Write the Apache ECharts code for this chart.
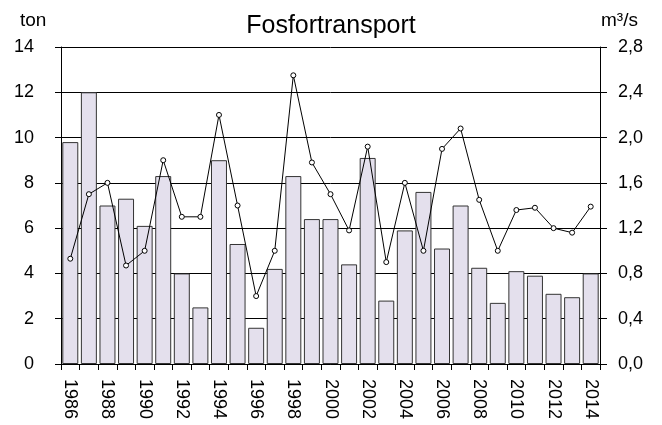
<!DOCTYPE html>
<html>
<head>
<meta charset="utf-8">
<script src="https://cdn.jsdelivr.net/npm/echarts@6/dist/echarts.min.js"></script>
<style>
  html, body { margin: 0; padding: 0; background: #fff; }
  #chart { width: 662px; height: 425px; }
</style>
</head>
<body>
<div id="chart"></div>
<script>
// Annual phosphorus transport (ton) and mean discharge (m³/s)
const years = ['1986','1987','1988','1989','1990','1991','1992','1993','1994','1995',
  '1996','1997','1998','1999','2000','2001','2002','2003','2004','2005',
  '2006','2007','2008','2009','2010','2011','2012','2013','2014'];
const transportTon = [9.8, 12.0, 7.0, 7.3, 6.1, 8.3, 4.0, 2.5, 9.0, 5.3,
  1.6, 4.2, 8.3, 6.4, 6.4, 4.4, 9.1, 2.8, 5.9, 7.6,
  5.1, 7.0, 4.25, 2.7, 4.1, 3.9, 3.1, 2.95, 4.0];
const flowM3s = [0.93, 1.50, 1.60, 0.87, 1.00, 1.80, 1.30, 1.30, 2.20, 1.40,
  0.60, 1.00, 2.55, 1.78, 1.50, 1.18, 1.92, 0.90, 1.60, 1.00,
  1.90, 2.08, 1.45, 1.00, 1.36, 1.38, 1.20, 1.16, 1.39];
const leftTicks = [0, 2, 4, 6, 8, 10, 12, 14];
const rightTicks = [0, 0.4, 0.8, 1.2, 1.6, 2.0, 2.4, 2.8];

const FONT = 'Liberation Sans, Arial, sans-serif';
const chart = echarts.init(document.getElementById('chart'), null, { renderer: 'canvas' });

chart.setOption({
  animation: false,
  backgroundColor: '#ffffff',
  title: {
    text: 'Fosfortransport',
    left: 'center',
    top: 9,
    textStyle: { fontFamily: FONT, fontSize: 25, fontWeight: 'normal', color: '#000' }
  },
  graphic: [
    { type: 'text', left: 20, top: 11, style: { text: 'ton', font: '19px ' + FONT, fill: '#000' } },
    { type: 'text', left: 601, top: 11, style: { text: 'm³/s', font: '19px ' + FONT, fill: '#000' } }
  ],
  grid: { left: 61, right: 62, top: 47, bottom: 61, containLabel: false },
  xAxis: {
    type: 'category',
    data: years,
    boundaryGap: true,
    axisLine: { show: true, lineStyle: { color: '#000', width: 1 } },
    axisTick: { show: true, alignWithLabel: false, interval: 0, length: 6, lineStyle: { color: '#000' } },
    axisLabel: {
      interval: 1,
      rotate: -90,
      margin: 15,
      fontFamily: FONT,
      fontSize: 18,
      color: '#000'
    },
    splitLine: { show: false }
  },
  yAxis: [
    {
      type: 'value',
      min: 0, max: leftTicks[leftTicks.length - 1], interval: 2,
      axisLine: { show: true, lineStyle: { color: '#000', width: 1 } },
      axisTick: { show: true, length: 6, lineStyle: { color: '#000' } },
      axisLabel: { fontFamily: FONT, fontSize: 18, color: '#000', margin: 27 },
      splitLine: { show: true, lineStyle: { color: '#000', width: 1 } }
    },
    {
      type: 'value',
      min: 0, max: rightTicks[rightTicks.length - 1], interval: 0.4,
      position: 'right',
      axisLine: { show: true, lineStyle: { color: '#000', width: 1 } },
      axisTick: { show: true, length: 7, lineStyle: { color: '#000' } },
      axisLabel: {
        fontFamily: FONT, fontSize: 18, color: '#000', margin: 18,
        formatter: v => v.toFixed(1).replace('.', ',')
      },
      splitLine: { show: false }
    }
  ],
  series: [
    {
      name: 'Fosfor',
      type: 'bar',
      yAxisIndex: 0,
      data: transportTon,
      barCategoryGap: '14%',
      itemStyle: { color: '#e4e0ed', borderColor: '#333', borderWidth: 1 },
      z: 2
    },
    {
      name: 'Vattenföring',
      type: 'line',
      yAxisIndex: 1,
      data: flowM3s,
      symbol: 'circle',
      symbolSize: 5,
      lineStyle: { color: '#000', width: 1 },
      itemStyle: { color: '#fff', borderColor: '#000', borderWidth: 1 },
      z: 3
    }
  ]
});
</script>
</body>
</html>
